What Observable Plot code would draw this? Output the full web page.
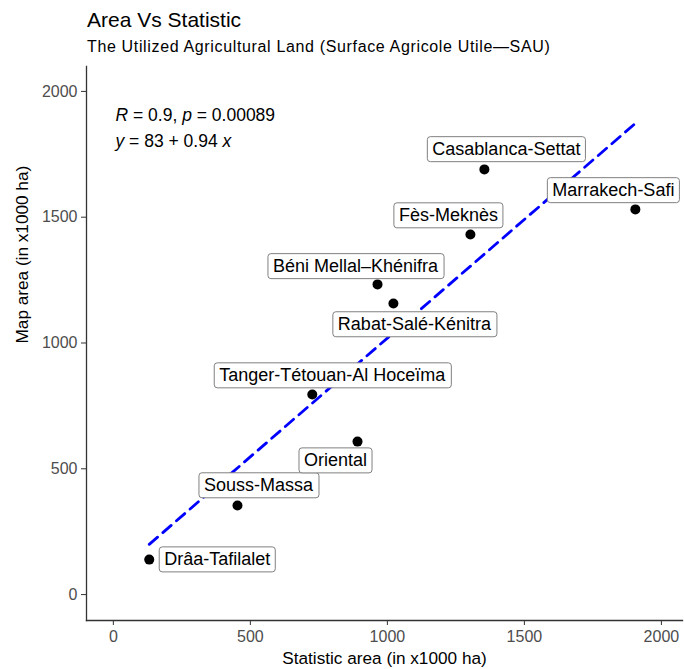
<!DOCTYPE html>
<html><head><meta charset="utf-8">
<script src="https://cdn.jsdelivr.net/npm/d3@7"></script>
<script src="https://cdn.jsdelivr.net/npm/@observablehq/plot@0.6"></script>
<style>
body{margin:0;background:#fff;font-family:"Liberation Sans",Arial,sans-serif;}
#wrap{position:relative;width:684px;height:669px;overflow:hidden;}
#title{position:absolute;left:87px;top:9px;font-size:21px;line-height:21px;color:#000;white-space:nowrap;}
#subtitle{position:absolute;left:87px;top:39px;font-size:16px;line-height:16px;letter-spacing:0.65px;color:#000;white-space:nowrap;}
#chart{position:absolute;left:0;top:60px;}
</style></head><body>
<div id="wrap">
  <div id="title">Area Vs Statistic</div>
  <div id="subtitle">The Utilized Agricultural Land (Surface Agricole Utile—SAU)</div>
  <div id="chart"></div>
</div>
<script>
const regions = ["Drâa-Tafilalet","Souss-Massa","Oriental","Tanger-Tétouan-Al Hoceïma","Rabat-Salé-Kénitra","Béni Mellal–Khénifra","Fès-Meknès","Casablanca-Settat","Marrakech-Safi"];
const statArea = [131, 453, 891, 726, 1022, 964, 1303, 1354, 1905];
const mapArea  = [139, 354, 608, 795, 1157, 1233, 1431, 1690, 1531];
const labelDx = [68, 21, -22, 20, 21, -22, -22, 22, -22];
const labelDy = [0, -20, 19, -19, 21, -18, -19, -20, -19];
const xTicks = [0, 500, 1000, 1500, 2000];
const yTicks = [0, 500, 1000, 1500, 2000];
const annotationLines = ["R = 0.9, p = 0.00089", "y = 83 + 0.94 x"];
const xTitle = "Statistic area (in x1000 ha)";
const yTitle = "Map area (in x1000 ha)";

const data = regions.map((name, i) => ({name, x: statArea[i], y: mapArea[i], dx: labelDx[i], dy: labelDy[i]}));

const font = '"Liberation Sans", Arial, sans-serif';
const labelMarks = data.map(d => Plot.text([d], {
  x: "x", y: "y", text: "name", dx: d.dx, dy: d.dy,
  fontSize: 18, fill: "black", textAnchor: "middle", lineAnchor: "middle",
  ariaDescription: "region label"
}));

const plot = Plot.plot({
  width: 684, height: 609,
  marginLeft: 86, marginRight: 2, marginTop: 6, marginBottom: 49,
  style: {fontFamily: font, background: "white", overflow: "visible"},
  x: {domain: [-98, 2077], label: null},
  y: {domain: [-103, 2099], label: null},
  marks: [
    Plot.axisX({ticks: xTicks, tickFormat: d3.format("d"), tickSize: 5, tickPadding: 5, fontSize: 16, stroke: "#333", fill: "#4d4d4d", label: null}),
    Plot.axisY({ticks: yTicks, tickFormat: d3.format("d"), tickSize: 5, tickPadding: 4, fontSize: 16, stroke: "#333", fill: "#4d4d4d", label: null}),
    Plot.frame({anchor: "left", stroke: "#333", strokeWidth: 1.3}),
    Plot.frame({anchor: "bottom", stroke: "#333", strokeWidth: 1.3}),
    Plot.text([xTitle], {frameAnchor: "bottom", dy: 38, fontSize: 17.2, fill: "black", lineAnchor: "middle"}),
    Plot.text([yTitle], {frameAnchor: "left", dx: -64, rotate: -90, fontSize: 17.2, fill: "black", lineAnchor: "middle"}),
    Plot.linearRegressionY(data, {x: "x", y: "y", ci: 0, stroke: "blue", strokeWidth: 2.8, strokeDasharray: "11,7"}),
    Plot.dot(data, {x: "x", y: "y", r: 5, fill: "black", stroke: "none"}),
    Plot.text([annotationLines[0]], {frameAnchor: "top-left", dx: 29, dy: 49, textAnchor: "start", lineAnchor: "middle", fontSize: 17.5, fill: "black", ariaDescription: "annotation"}),
    Plot.text([annotationLines[1]], {frameAnchor: "top-left", dx: 29, dy: 75, textAnchor: "start", lineAnchor: "middle", fontSize: 17.5, fill: "black", ariaDescription: "annotation"}),
    ...labelMarks
  ]
});
document.getElementById("chart").appendChild(plot);

const svgNS = "http://www.w3.org/2000/svg";
// boxes behind region labels (ggrepel-style)
plot.querySelectorAll('g[aria-description="region label"] text').forEach(t => {
  const bb = t.getBBox();
  const padX = 5, padY = 2.5;
  const r = document.createElementNS(svgNS, "rect");
  r.setAttribute("x", bb.x - padX);
  r.setAttribute("y", bb.y - padY);
  r.setAttribute("width", bb.width + 2 * padX);
  r.setAttribute("height", bb.height + 2 * padY);
  r.setAttribute("rx", 3);
  r.setAttribute("fill", "white");
  r.setAttribute("stroke", "#808080");
  r.setAttribute("stroke-width", 1);
  if (t.getAttribute("transform")) r.setAttribute("transform", t.getAttribute("transform"));
  t.parentNode.insertBefore(r, t);
});

// italic variables in the annotation
plot.querySelectorAll('g[aria-description="annotation"] text').forEach(t => {
  const s = t.textContent;
  const parts = s.split(/(\b[Rpyx]\b)/);
  while (t.firstChild) t.removeChild(t.firstChild);
  parts.forEach(p => {
    if (!p) return;
    const ts = document.createElementNS(svgNS, "tspan");
    ts.textContent = p;
    if (/^[Rpyx]$/.test(p)) ts.setAttribute("font-style", "italic");
    t.appendChild(ts);
  });
});
</script>
</body></html>
